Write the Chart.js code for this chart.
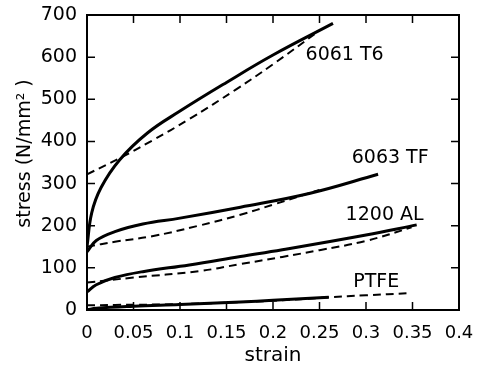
<!DOCTYPE html>
<html>
<head>
<meta charset="utf-8">
<script src="https://cdn.jsdelivr.net/npm/chart.js@4"></script>
<style>
html,body{margin:0;padding:0;background:#fff;}
#wrap{width:479px;height:368px;}
</style>
</head>
<body>
<div id="wrap"><canvas id="c" width="479" height="368"></canvas></div>
<script>
// strain (x) and stress (y) values
const t6SolidX = [0, 0.005, 0.015, 0.035, 0.065, 0.1, 0.15, 0.2, 0.2645];
const t6SolidY = [150, 230, 290, 356, 420, 472, 540, 605, 680];
const t6DashX = [0, 0.035, 0.07, 0.11, 0.16, 0.2, 0.25];
const t6DashY = [322, 360, 402, 453, 523, 583, 663];

const tfSolidX = [0, 0.01, 0.03, 0.06, 0.1, 0.165, 0.24, 0.313];
const tfSolidY = [138, 165, 186, 204, 218, 244, 277, 322];
const tfDashX = [0, 0.03, 0.07, 0.12, 0.165, 0.2, 0.25];
const tfDashY = [150, 162, 175, 200, 226, 250, 285];

const alSolidX = [0, 0.01, 0.03, 0.06, 0.11, 0.165, 0.21, 0.3, 0.3545];
const alSolidY = [43, 60, 77, 91, 107, 127, 143, 178, 202];
const alDashX = [0, 0.05, 0.12, 0.165, 0.21, 0.25, 0.3, 0.349];
const alDashY = [65, 77, 92, 109, 126, 142, 164, 196];

const ptSolidX = [0, 0.01, 0.05, 0.1, 0.165, 0.2, 0.26];
const ptSolidY = [0, 4, 9, 13, 19, 23, 30];
const ptDashX = [0, 0.03, 0.1, 0.2, 0.26, 0.3, 0.347];
const ptDashY = [11, 12, 14, 22, 30, 35, 40];

const xTicks = [0, 0.05, 0.1, 0.15, 0.2, 0.25, 0.3, 0.35, 0.4];
const yTicks = [0, 100, 200, 300, 400, 500, 600, 700];

const curveNames = ['6061 T6', '6063 TF', '1200 AL', 'PTFE'];
const curveLabelX = [0.277, 0.326, 0.320, 0.311];
const curveLabelY = [605, 361, 226, 67];

function pts(xs, ys){ return xs.map((x,i)=>({x:x, y:ys[i]})); }
function solid(name, xs, ys){
  return {label:name, data:pts(xs,ys), borderColor:'#000', borderWidth:3, pointRadius:0,
          fill:false, tension:0.4};
}
function dashed(name, xs, ys){
  return {label:name, data:pts(xs,ys), borderColor:'#000', borderWidth:2, pointRadius:0,
          fill:false, borderDash:[8,5], tension:0.4};
}

const framePlugin = {
  id:'frame',
  afterDatasetsDraw(chart){
    const ctx = chart.ctx, a = chart.chartArea;
    const xs = chart.scales.x, ys = chart.scales.y;
    ctx.save();
    ctx.strokeStyle = '#000';
    ctx.lineWidth = 2;
    ctx.strokeRect(a.left, a.top, a.right - a.left, a.bottom - a.top);
    ctx.lineWidth = 1.5;
    const L = 8;
    ctx.beginPath();
    xTicks.forEach(v=>{
      const p = xs.getPixelForValue(v);
      ctx.moveTo(p, a.bottom); ctx.lineTo(p, a.bottom - L);
      ctx.moveTo(p, a.top); ctx.lineTo(p, a.top + L);
    });
    yTicks.forEach(v=>{
      const p = ys.getPixelForValue(v);
      ctx.moveTo(a.left, p); ctx.lineTo(a.left + L, p);
      ctx.moveTo(a.right, p); ctx.lineTo(a.right - L, p);
    });
    ctx.stroke();
    ctx.fillStyle = '#000';
    ctx.font = '19px "DejaVu Sans"';
    ctx.textAlign = 'center';
    ctx.textBaseline = 'middle';
    curveNames.forEach((n,i)=>{
      ctx.fillText(n, xs.getPixelForValue(curveLabelX[i]), ys.getPixelForValue(curveLabelY[i]));
    });
    ctx.restore();
  }
};

new Chart(document.getElementById('c'), {
  type:'line',
  data:{datasets:[
    solid('6061 T6', t6SolidX, t6SolidY), dashed('6061 T6 model', t6DashX, t6DashY),
    solid('6063 TF', tfSolidX, tfSolidY), dashed('6063 TF model', tfDashX, tfDashY),
    solid('1200 AL', alSolidX, alSolidY), dashed('1200 AL model', alDashX, alDashY),
    solid('PTFE', ptSolidX, ptSolidY), dashed('PTFE model', ptDashX, ptDashY)
  ]},
  options:{
    responsive:false, animation:false,
    layout:{padding:{top:15, right:20, left:14, bottom:0}},
    plugins:{legend:{display:false}, tooltip:{enabled:false}},
    scales:{
      x:{type:'linear', min:0, max:0.4,
         afterBuildTicks(s){ s.ticks = xTicks.map(v=>({value:v})); },
         afterFit(s){ s.height = 58; },
         grid:{display:false}, border:{display:false},
         ticks:{color:'#000', font:{family:'DejaVu Sans', size:18}, padding:5, maxRotation:0,
                callback:(v)=>String(+v.toFixed(2))},
         title:{display:true, text:'strain', color:'#000', font:{family:'DejaVu Sans', size:20}, padding:{top:4,bottom:0}}
      },
      y:{type:'linear', min:0, max:700,
         afterBuildTicks(s){ s.ticks = yTicks.map(v=>({value:v})); },
         afterFit(s){ s.width = 73; },
         grid:{display:false}, border:{display:false},
         ticks:{color:'#000', font:{family:'DejaVu Sans', size:19}, padding:2},
         title:{display:true, text:'   stress (N/mm² )', color:'#000', font:{family:'DejaVu Sans', size:19}, padding:{top:0,bottom:4}}
      }
    }
  },
  plugins:[framePlugin]
});
</script>
</body>
</html>
